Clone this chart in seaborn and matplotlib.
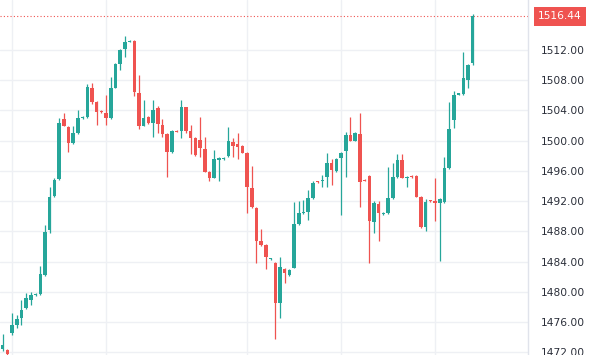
import matplotlib
matplotlib.use("Agg")
import matplotlib.pyplot as plt
import matplotlib.transforms as mtransforms
import numpy as np
import pandas as pd
import seaborn as sns

# ---- data ----
opens = [1472.5, 1472.3, 1474.6, 1475.6, 1476.6, 1477.9, 1478.9, 1479.6, 1479.7, 1482.2,
         1488.2, 1492.7, 1494.9, 1502.9, 1501.8, 1499.7, 1501.0, 1503.0, 1503.1, 1507.0,
         1505.1, 1503.9, 1503.6, 1503.0, 1507.0, 1510.1, 1512.1, 1513.1, 1513.2, 1506.3,
         1502.0, 1503.1, 1502.3, 1504.3, 1502.1, 1500.9, 1498.5, 1501.3, 1501.3, 1504.4,
         1501.3, 1500.4, 1500.1, 1498.9, 1495.9, 1495.1, 1497.5, 1497.6, 1498.0, 1499.8,
         1499.6, 1499.3, 1498.4, 1493.7, 1491.1, 1486.7, 1486.2, 1484.3, 1483.8, 1478.5,
         1483.0, 1482.2, 1483.2, 1489.0, 1490.4, 1490.6, 1492.4, 1494.6, 1494.6, 1495.2,
         1497.1, 1496.0, 1497.7, 1498.6, 1500.8, 1500.0, 1500.9, 1494.8, 1495.3, 1489.3,
         1491.6, 1490.3, 1490.4, 1492.4, 1495.2, 1497.4, 1495.0, 1495.3, 1495.3, 1492.6,
         1488.6, 1492.1, 1492.0, 1491.8, 1491.9, 1496.4, 1502.7, 1506.1, 1506.2, 1508.0,
         1510.3]
highs = [1474.4, 1472.5, 1477.2, 1476.9, 1478.9, 1479.9, 1480.0, 1479.8, 1483.4, 1488.9,
         1493.9, 1495.0, 1503.0, 1503.7, 1502.0, 1501.9, 1504.1, 1503.2, 1507.5, 1507.6,
         1505.2, 1504.0, 1506.0, 1508.4, 1510.3, 1512.1, 1513.9, 1513.3, 1513.3, 1508.7,
         1505.4, 1503.2, 1505.4, 1504.6, 1502.8, 1501.0, 1501.4, 1501.4, 1505.4, 1504.5,
         1502.1, 1500.5, 1503.1, 1500.5, 1496.0, 1498.8, 1497.8, 1497.8, 1501.8, 1500.4,
         1501.0, 1499.4, 1498.5, 1496.6, 1491.2, 1488.3, 1486.3, 1484.5, 1483.9, 1484.6,
         1483.1, 1483.0, 1491.9, 1492.0, 1492.2, 1493.5, 1494.6, 1494.7, 1495.5, 1498.4,
         1497.6, 1497.7, 1498.5, 1501.2, 1503.1, 1501.1, 1503.6, 1494.9, 1495.4, 1492.0,
         1492.0, 1490.5, 1496.5, 1497.0, 1498.2, 1498.2, 1495.3, 1495.4, 1495.4, 1492.7,
         1492.3, 1492.2, 1495.1, 1492.4, 1497.8, 1505.1, 1506.6, 1506.3, 1511.7, 1510.2,
         1516.8]
lows = [1472.2, 1471.6, 1474.3, 1475.2, 1475.6, 1477.7, 1478.3, 1479.5, 1479.6, 1482.1,
        1487.8, 1492.6, 1494.8, 1501.9, 1498.5, 1499.6, 1500.9, 1502.9, 1503.0, 1504.9,
        1502.1, 1503.7, 1502.1, 1502.9, 1506.9, 1509.4, 1511.0, 1513.0, 1505.9, 1501.6,
        1501.9, 1502.2, 1500.5, 1501.0, 1500.5, 1495.2, 1498.4, 1501.1, 1500.4, 1501.0,
        1498.2, 1498.0, 1497.9, 1495.8, 1494.6, 1495.0, 1494.6, 1497.5, 1497.9, 1497.8,
        1497.6, 1498.3, 1490.4, 1491.1, 1483.8, 1486.0, 1483.0, 1484.2, 1473.8, 1476.6,
        1481.2, 1482.1, 1483.1, 1488.9, 1490.3, 1489.5, 1492.3, 1494.4, 1493.9, 1493.9,
        1494.1, 1495.9, 1490.2, 1495.2, 1499.9, 1499.9, 1491.2, 1494.6, 1483.8, 1487.8,
        1486.7, 1490.2, 1490.3, 1492.3, 1495.1, 1495.0, 1493.9, 1495.1, 1492.5, 1488.5,
        1488.1, 1491.9, 1489.4, 1484.1, 1491.8, 1496.2, 1501.7, 1506.0, 1506.1, 1507.0,
        1510.0]
closes = [1473.0, 1471.8, 1475.6, 1476.4, 1477.6, 1479.2, 1479.6, 1479.7, 1482.4, 1487.9,
          1492.6, 1494.8, 1502.3, 1502.0, 1499.7, 1501.0, 1503.0, 1503.1, 1507.1, 1505.1,
          1503.8, 1503.8, 1503.0, 1507.0, 1510.1, 1512.0, 1513.0, 1513.2, 1506.4, 1502.0,
          1503.0, 1502.3, 1504.1, 1502.2, 1500.9, 1498.5, 1501.3, 1501.2, 1504.4, 1501.3,
          1500.4, 1498.1, 1499.0, 1495.9, 1495.1, 1497.6, 1497.7, 1497.7, 1500.0, 1499.3,
          1499.2, 1498.4, 1493.9, 1491.2, 1486.7, 1486.2, 1484.6, 1484.4, 1478.5, 1483.3,
          1482.5, 1482.9, 1489.0, 1490.4, 1490.6, 1492.4, 1494.4, 1494.5, 1494.8, 1497.1,
          1496.1, 1497.6, 1498.4, 1500.8, 1500.0, 1501.0, 1494.5, 1494.7, 1489.4, 1491.8,
          1490.4, 1490.4, 1492.4, 1495.2, 1497.4, 1495.1, 1495.1, 1495.2, 1492.6, 1488.6,
          1491.9, 1492.0, 1491.8, 1492.3, 1496.4, 1501.6, 1506.0, 1506.2, 1508.3, 1510.0,
          1516.44]
last_price = 1516.44
price_ticks = [1472, 1476, 1480, 1484, 1488, 1492, 1496, 1500, 1504, 1508, 1512]
time_grid = [2, 22, 52, 72, 92]

UP = "#26a69a"
DOWN = "#ef5350"

df = pd.DataFrame({"open": opens, "high": highs, "low": lows, "close": closes})
df["idx"] = np.arange(len(df))
df["up"] = df["close"] >= df["open"]
df["color"] = np.where(df["up"], UP, DOWN)
df["bottom"] = df[["open", "close"]].min(axis=1)
df["height"] = (df["close"] - df["open"]).abs().clip(lower=0.14)

sns.set_theme(style="white")
plt.rcParams["font.family"] = ["DejaVu Sans"]

fig = plt.figure(figsize=(5.92, 3.55), dpi=100)
fig.patch.set_facecolor("white")
ax = fig.add_axes([0, 0, 528 / 592, 1])
ax.set_facecolor("white")

# grid
for p in price_ticks:
    ax.axhline(p, color="#eef0f4", lw=1.0, zorder=0)
for g in time_grid:
    ax.axvline(g, color="#eef0f4", lw=1.0, zorder=0)

# wicks and bodies
ax.vlines(df["idx"], df["low"], df["high"], colors=df["color"], lw=0.9, zorder=2)
ax.bar(df["idx"], df["height"], bottom=df["bottom"], width=0.74,
       color=df["color"], edgecolor="none", zorder=3)

# last price line
ax.axhline(last_price, color=DOWN, lw=0.8, ls=(0, (1, 2)), zorder=1)

ax.set_xlim(-0.574, 111.77)
ax.set_ylim(1471.65, 1518.6)

ax.yaxis.tick_right()
ax.set_yticks(price_ticks)
ax.set_yticklabels([f"{p:.2f}" for p in price_ticks])
ax.tick_params(axis="y", length=0, pad=9, labelsize=7.7, labelcolor="#2a2e39")
ax.set_xticks([])

for s in ["left", "top", "bottom"]:
    ax.spines[s].set_visible(False)
ax.spines["right"].set_color("#e0e3eb")
ax.spines["right"].set_linewidth(1.0)

trans = mtransforms.blended_transform_factory(ax.transAxes, ax.transData)
ax.text(1.019, last_price, f"{last_price:.2f}", transform=trans, ha="left", va="center",
        fontsize=7.7, color="white", clip_on=False, zorder=10,
        bbox=dict(boxstyle="square,pad=0.4", fc=DOWN, ec="none"))

fig.savefig("out.png", dpi=100)
